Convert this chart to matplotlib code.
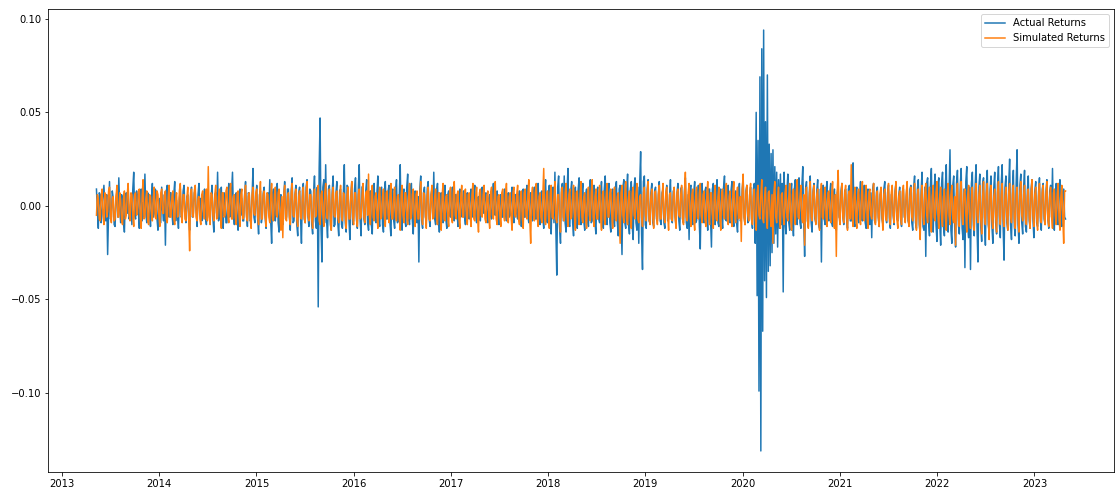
import matplotlib
matplotlib.use("Agg")
import matplotlib.pyplot as plt
import pandas as pd

start_date = "2013-05-10"
sample_step = "84h"

actual_returns = [
    0.009, -0.003, -0.012, 0.007, 0.006, -0.009, -0.004, 0.005, 0.011, 0.002, -0.008, 0.006, -0.026, -0.004, 0.013, -0.007, -0.006, 0.008, 0.004, -0.010,
    -0.011, 0.004, 0.008, -0.006, 0.015, -0.002, -0.009, 0.006, 0.003, -0.008, -0.014, 0.005, 0.007, -0.004, 0.010, -0.007, -0.005, 0.003, -0.010, 0.009,
    0.018, -0.005, -0.007, 0.008, 0.005, -0.003, -0.012, 0.006, 0.009, -0.008, 0.002, -0.006, 0.017, -0.004, -0.009, 0.007, 0.006, -0.005, -0.011, 0.004,
    0.012, -0.006, -0.004, 0.009, 0.008, -0.007, -0.013, 0.003, 0.004, -0.009, 0.010, -0.002, -0.008, 0.006, -0.021, 0.008, 0.011, -0.005, -0.006, 0.007,
    0.007, -0.004, -0.010, 0.006, 0.013, -0.008, 0.003, -0.005, -0.012, 0.004, 0.009, -0.006, -0.005, 0.008, 0.011, -0.003, -0.009, 0.005, 0.006, -0.007,
    -0.013, 0.005, 0.010, -0.006, -0.004, 0.007, 0.008, -0.003, -0.011, 0.006, 0.012, -0.005, 0.004, -0.008, -0.007, 0.004, 0.009, -0.006, -0.010, 0.003,
    0.006, -0.005, -0.008, 0.004, 0.011, -0.007, -0.014, 0.006, 0.007, -0.004, 0.018, -0.008, -0.006, 0.005, 0.010, -0.006, -0.012, 0.007, 0.005, -0.009,
    -0.009, 0.003, 0.012, -0.006, -0.003, 0.008, 0.018, -0.004, -0.010, 0.005, 0.007, -0.007, -0.013, 0.004, 0.009, -0.005, 0.004, -0.008, -0.008, 0.006,
    0.013, -0.004, -0.011, 0.007, 0.006, -0.008, -0.007, 0.005, 0.020, -0.006, -0.009, 0.004, 0.011, -0.007, -0.015, 0.006, 0.008, -0.009, -0.005, 0.007,
    0.010, -0.006, -0.012, 0.005, 0.007, -0.004, 0.014, -0.008, -0.020, 0.006, 0.009, -0.007, -0.008, 0.005, 0.012, -0.009, -0.014, 0.004, 0.006, -0.008,
    -0.010, 0.006, 0.013, -0.007, -0.006, 0.009, 0.009, -0.005, -0.013, 0.008, 0.015, -0.009, -0.008, 0.006, 0.011, -0.010, -0.016, 0.007, 0.010, -0.006,
    -0.020, 0.008, 0.012, -0.007, -0.009, 0.010, 0.014, -0.006, -0.011, 0.009, 0.008, -0.010, -0.015, 0.007, 0.016, -0.008, -0.012, 0.010, -0.054, 0.020,
    0.047, -0.012, -0.030, 0.010, 0.014, -0.009, 0.022, -0.008, -0.017, 0.009, 0.011, -0.010, -0.013, 0.008, 0.016, -0.011, -0.010, 0.007, 0.013, -0.009,
    -0.016, 0.008, 0.009, -0.010, -0.012, 0.007, 0.022, -0.009, -0.014, 0.011, 0.010, -0.008, -0.018, 0.006, 0.013, -0.010, -0.008, 0.009, 0.015, -0.007,
    -0.012, 0.009, 0.022, -0.008, -0.016, 0.010, 0.011, -0.007, -0.010, 0.008, 0.014, -0.009, -0.013, 0.007, 0.008, -0.010, -0.015, 0.009, 0.012, -0.006,
    -0.009, 0.007, 0.016, -0.008, -0.011, 0.009, 0.010, -0.010, -0.014, 0.006, 0.013, -0.007, -0.007, 0.008, 0.011, -0.009, -0.016, 0.007, 0.009, -0.008,
    -0.012, 0.008, 0.014, -0.009, -0.008, 0.006, 0.022, -0.010, -0.013, 0.007, 0.009, -0.008, -0.011, 0.010, 0.017, -0.007, -0.010, 0.009, 0.012, -0.008,
    -0.015, 0.006, 0.008, -0.007, -0.009, 0.005, -0.030, 0.009, 0.016, -0.008, -0.012, 0.007, 0.010, -0.006, -0.008, 0.009, 0.013, -0.007, -0.011, 0.006,
    0.009, -0.006, 0.018, -0.007, -0.010, 0.008, 0.012, -0.005, -0.014, 0.006, 0.007, -0.008, -0.009, 0.005, 0.011, -0.007, -0.012, 0.006, 0.008, -0.005,
    -0.006, 0.004, 0.010, -0.005, -0.008, 0.006, 0.006, -0.004, -0.011, 0.005, 0.009, -0.006, -0.005, 0.003, 0.008, -0.006, -0.010, 0.005, 0.007, -0.004,
    -0.007, 0.005, 0.009, -0.004, -0.006, 0.006, 0.011, -0.005, -0.009, 0.004, 0.005, -0.006, -0.008, 0.005, 0.010, -0.003, -0.004, 0.006, 0.007, -0.005,
    -0.009, 0.004, 0.006, -0.005, -0.007, 0.005, 0.012, -0.004, -0.005, 0.006, 0.008, -0.005, -0.010, 0.004, 0.006, -0.006, -0.006, 0.005, 0.009, -0.004,
    -0.008, 0.005, 0.007, -0.006, -0.005, 0.004, 0.010, -0.005, -0.009, 0.006, 0.006, -0.004, -0.007, 0.005, 0.008, -0.006, -0.011, 0.005, 0.009, -0.006,
    -0.006, 0.005, 0.011, -0.006, -0.009, 0.004, 0.007, -0.005, -0.008, 0.006, 0.010, -0.007, -0.007, 0.006, 0.012, -0.005, -0.010, 0.007, 0.008, -0.006,
    -0.012, 0.007, 0.014, -0.008, -0.009, 0.006, 0.011, -0.007, -0.015, 0.008, 0.010, -0.009, 0.018, -0.012, -0.037, 0.010, 0.016, -0.011, -0.020, 0.009,
    0.012, -0.008, 0.016, -0.009, -0.014, 0.007, 0.020, -0.010, -0.011, 0.008, 0.013, -0.009, -0.016, 0.008, 0.010, -0.007, -0.012, 0.009, 0.015, -0.008,
    -0.010, 0.007, 0.012, -0.008, -0.013, 0.006, 0.009, -0.007, -0.011, 0.008, 0.014, -0.009, -0.008, 0.007, 0.011, -0.009, -0.015, 0.008, 0.010, -0.007,
    -0.009, 0.006, 0.013, -0.008, -0.012, 0.009, 0.016, -0.007, -0.010, 0.008, 0.012, -0.009, -0.014, 0.007, 0.009, -0.008, -0.011, 0.010, 0.013, -0.009,
    -0.016, 0.009, 0.011, -0.008, -0.026, 0.010, 0.014, -0.009, -0.012, 0.008, 0.017, -0.010, -0.015, 0.009, 0.013, -0.011, -0.018, 0.010, 0.015, -0.009,
    -0.013, 0.010, -0.020, 0.012, 0.029, -0.015, -0.034, 0.013, 0.016, -0.010, -0.012, 0.009, 0.014, -0.008, -0.009, 0.007, 0.012, -0.009, -0.011, 0.008,
    0.010, -0.007, -0.008, 0.006, 0.013, -0.008, -0.010, 0.007, 0.009, -0.009, -0.012, 0.006, 0.011, -0.008, -0.007, 0.005, 0.014, -0.007, -0.009, 0.008,
    0.008, -0.006, -0.011, 0.007, 0.012, -0.008, -0.013, 0.009, 0.010, -0.007, -0.009, 0.008, 0.015, -0.009, -0.012, 0.006, -0.018, 0.010, 0.011, -0.008,
    -0.010, 0.007, 0.013, -0.009, -0.008, 0.006, 0.011, -0.010, -0.023, 0.008, 0.012, -0.007, -0.009, 0.008, 0.010, -0.006, -0.013, 0.009, 0.009, -0.007,
    -0.022, 0.009, 0.012, -0.008, -0.010, 0.007, 0.014, -0.009, -0.011, 0.008, 0.009, -0.006, -0.012, 0.010, 0.016, -0.007, -0.008, 0.009, 0.011, -0.008,
    -0.009, 0.008, 0.013, -0.007, -0.011, 0.006, 0.008, -0.009, -0.014, 0.007, 0.012, -0.008, -0.007, 0.009, 0.015, -0.006, -0.010, 0.008, 0.011, -0.009,
    -0.008, 0.006, 0.010, -0.007, -0.012, 0.009, 0.012, -0.020, 0.050, -0.048, 0.035, -0.099, 0.069, -0.131, 0.084, -0.067, 0.094, -0.040, 0.045, -0.049,
    0.070, -0.035, 0.033, -0.032, 0.028, -0.025, 0.030, -0.020, 0.021, -0.015, 0.018, -0.022, 0.014, -0.012, 0.017, -0.010, 0.012, -0.046, 0.018, -0.009,
    -0.015, 0.008, 0.017, -0.009, -0.013, 0.007, 0.012, -0.008, -0.016, 0.009, 0.014, -0.007, -0.010, 0.008, 0.015, -0.009, -0.012, 0.010, 0.021, -0.008,
    -0.027, 0.009, 0.013, -0.008, -0.011, 0.007, 0.016, -0.009, -0.014, 0.008, 0.012, -0.007, -0.009, 0.008, 0.014, -0.010, -0.012, 0.009, -0.030, 0.010,
    0.011, -0.007, -0.010, 0.008, 0.013, -0.006, -0.008, 0.007, 0.012, -0.009, -0.011, 0.006, 0.009, -0.008, -0.013, 0.007, 0.010, -0.006, -0.007, 0.008,
    0.012, -0.006, -0.010, 0.008, 0.009, -0.007, -0.012, 0.009, 0.011, -0.008, -0.008, 0.006, 0.023, -0.009, -0.011, 0.008, 0.010, -0.007, -0.009, 0.006,
    0.013, -0.007, -0.008, 0.006, 0.011, -0.009, -0.012, 0.008, 0.009, -0.006, -0.010, 0.007, -0.017, 0.009, 0.012, -0.008, -0.009, 0.007, 0.010, -0.006,
    -0.011, 0.006, 0.008, -0.007, -0.010, 0.009, 0.013, -0.006, -0.009, 0.007, 0.011, -0.008, -0.012, 0.006, 0.007, -0.005, -0.010, 0.008, 0.012, -0.007,
    -0.008, 0.006, 0.010, -0.007, -0.011, 0.008, 0.009, -0.006, -0.007, 0.005, 0.012, -0.008, -0.010, 0.009, 0.011, -0.009, -0.013, 0.010, 0.016, -0.009,
    -0.012, 0.009, 0.014, -0.010, -0.015, 0.008, 0.018, -0.011, -0.013, 0.010, -0.027, 0.012, 0.015, -0.009, -0.016, 0.011, 0.020, -0.010, -0.014, 0.009,
    0.017, -0.010, -0.019, 0.011, 0.015, -0.009, -0.021, 0.012, 0.018, -0.011, -0.016, 0.010, 0.022, -0.012, -0.014, 0.009, 0.030, -0.013, -0.020, 0.011,
    0.016, -0.011, -0.022, 0.012, 0.019, -0.010, -0.015, 0.011, 0.020, -0.012, -0.018, 0.009, -0.033, 0.013, 0.021, -0.011, -0.017, 0.010, -0.034, 0.012,
    0.018, -0.010, -0.016, 0.011, 0.022, -0.012, -0.030, 0.010, 0.017, -0.011, -0.019, 0.012, 0.015, -0.009, -0.021, 0.011, 0.019, -0.010, -0.014, 0.009,
    0.016, -0.011, -0.020, 0.010, 0.018, -0.009, -0.015, 0.011, 0.021, -0.010, -0.017, 0.012, 0.022, -0.011, -0.029, 0.010, 0.016, -0.009, -0.013, 0.011,
    0.025, -0.010, -0.018, 0.009, 0.019, -0.011, -0.016, 0.012, 0.030, -0.010, -0.020, 0.011, 0.017, -0.009, -0.015, 0.010, 0.019, -0.011, -0.014, 0.008,
    0.016, -0.008, -0.012, 0.009, 0.014, -0.007, -0.017, 0.008, 0.013, -0.009, -0.011, 0.007, 0.015, -0.008, -0.013, 0.009, 0.012, -0.007, -0.010, 0.008,
    0.014, -0.007, -0.012, 0.008, 0.011, -0.006, 0.020, -0.009, -0.013, 0.007, 0.012, -0.008, -0.010, 0.009, 0.014, -0.007, -0.011, 0.008, 0.009, -0.006,
    -0.007,
]

simulated_returns = [
    -0.005, 0.006, 0.004, -0.007, -0.008, 0.005, 0.009, -0.004, -0.010, 0.007, 0.006, -0.006, -0.003, 0.008, 0.010, -0.005, -0.009, 0.004, 0.005, -0.008,
    -0.007, 0.005, 0.011, -0.006, -0.006, 0.007, 0.003, -0.008, -0.010, 0.004, 0.008, -0.007, -0.005, 0.006, 0.012, -0.004, -0.008, 0.007, 0.006, -0.005,
    -0.011, 0.006, 0.007, -0.005, -0.004, 0.008, 0.009, -0.006, -0.012, 0.005, 0.014, -0.007, -0.006, 0.004, 0.008, -0.008, -0.010, 0.006, 0.005, -0.004,
    -0.008, 0.004, 0.010, -0.006, -0.007, 0.008, 0.006, -0.005, -0.011, 0.007, 0.009, -0.004, -0.004, 0.006, 0.008, -0.007, -0.009, 0.005, 0.011, -0.006,
    -0.006, 0.005, 0.008, -0.007, -0.010, 0.004, 0.007, -0.006, -0.005, 0.008, 0.012, -0.005, -0.009, 0.006, 0.006, -0.007, -0.008, 0.004, 0.010, -0.006,
    -0.024, 0.007, 0.009, -0.005, -0.006, 0.008, 0.011, -0.006, -0.008, 0.004, 0.005, -0.007, -0.010, 0.006, 0.008, -0.005, -0.007, 0.006, 0.009, -0.008,
    0.021, -0.006, -0.010, 0.007, 0.006, -0.005, -0.008, 0.006, 0.011, -0.007, -0.006, 0.005, 0.009, -0.004, -0.012, 0.007, 0.007, -0.006, -0.005, 0.008,
    0.010, -0.005, -0.009, 0.006, 0.012, -0.007, -0.007, 0.005, 0.006, -0.006, -0.010, 0.007, 0.008, -0.005, -0.011, 0.006, 0.009, -0.007, -0.006, 0.005,
    0.011, -0.006, -0.008, 0.005, 0.007, -0.007, -0.012, 0.006, 0.010, -0.004, -0.005, 0.007, 0.009, -0.006, -0.010, 0.005, 0.013, -0.007, -0.007, 0.006,
    0.008, -0.005, -0.011, 0.007, 0.006, -0.006, -0.009, 0.005, 0.012, -0.007, -0.008, 0.006, 0.010, -0.005, -0.006, 0.007, 0.009, -0.006, -0.013, 0.005,
    -0.017, 0.006, 0.011, -0.007, -0.008, 0.005, 0.007, -0.006, -0.010, 0.007, 0.012, -0.005, -0.006, 0.006, 0.009, -0.007, -0.011, 0.005, 0.008, -0.006,
    -0.007, 0.005, 0.010, -0.006, -0.009, 0.007, 0.013, -0.005, -0.008, 0.006, 0.006, -0.007, -0.012, 0.005, 0.009, -0.006, -0.005, 0.007, 0.011, -0.008,
    -0.010, 0.006, 0.008, -0.005, -0.011, 0.007, 0.012, -0.006, -0.007, 0.005, 0.009, -0.007, -0.013, 0.006, 0.010, -0.005, -0.006, 0.007, 0.008, -0.006,
    -0.009, 0.005, 0.011, -0.006, -0.008, 0.007, 0.006, -0.005, -0.012, 0.006, 0.010, -0.007, -0.007, 0.005, 0.013, -0.006, -0.010, 0.007, 0.007, -0.005,
    -0.011, 0.006, 0.009, -0.007, -0.006, 0.005, 0.012, -0.006, -0.009, 0.007, 0.008, -0.005, 0.017, -0.006, -0.010, 0.007, 0.011, -0.006, -0.008, 0.005,
    0.007, -0.005, -0.012, 0.006, 0.010, -0.007, -0.006, 0.005, 0.009, -0.006, -0.011, 0.007, 0.008, -0.005, -0.009, 0.006, 0.012, -0.007, -0.007, 0.005,
    0.010, -0.006, -0.008, 0.005, 0.006, -0.007, -0.013, 0.006, 0.011, -0.005, -0.009, 0.007, 0.007, -0.006, -0.010, 0.005, 0.012, -0.007, -0.006, 0.006,
    0.009, -0.005, -0.011, 0.006, 0.008, -0.007, -0.007, 0.005, 0.013, -0.006, -0.010, 0.007, 0.006, -0.005, -0.012, 0.006, 0.010, -0.007, -0.008, 0.005,
    0.011, -0.007, -0.006, 0.005, 0.009, -0.006, -0.010, 0.007, 0.007, -0.005, -0.013, 0.006, 0.012, -0.007, -0.008, 0.005, 0.006, -0.006, -0.011, 0.007,
    0.010, -0.006, -0.009, 0.007, 0.013, -0.005, -0.007, 0.006, 0.008, -0.007, -0.012, 0.005, 0.011, -0.006, -0.006, 0.007, 0.009, -0.005, -0.010, 0.006,
    0.007, -0.005, -0.011, 0.006, 0.012, -0.007, -0.008, 0.005, 0.010, -0.006, -0.014, 0.007, 0.009, -0.005, -0.006, 0.006, 0.011, -0.007, -0.009, 0.005,
    0.008, -0.006, -0.012, 0.007, 0.010, -0.005, -0.007, 0.006, 0.013, -0.007, -0.010, 0.005, 0.006, -0.006, -0.011, 0.007, 0.009, -0.005, -0.008, 0.006,
    0.012, -0.007, -0.009, 0.005, 0.007, -0.006, -0.013, 0.007, 0.010, -0.005, -0.006, 0.006, 0.011, -0.007, -0.010, 0.005, 0.008, -0.006, -0.012, 0.007,
    0.009, -0.005, -0.007, 0.006, 0.014, -0.007, -0.020, 0.006, 0.010, -0.005, -0.008, 0.007, 0.012, -0.006, -0.011, 0.005, 0.007, -0.006, -0.009, 0.006,
    0.020, -0.007, -0.010, 0.006, 0.008, -0.005, -0.012, 0.007, 0.011, -0.006, -0.007, 0.005, 0.013, -0.007, -0.009, 0.006, 0.006, -0.005, -0.014, 0.007,
    0.010, -0.006, -0.008, 0.007, 0.012, -0.005, -0.011, 0.006, 0.009, -0.007, -0.006, 0.005, 0.011, -0.006, -0.013, 0.007, 0.008, -0.005, -0.010, 0.006,
    0.013, -0.006, -0.009, 0.005, 0.007, -0.007, -0.012, 0.006, 0.010, -0.005, -0.008, 0.007, 0.014, -0.006, -0.011, 0.005, 0.009, -0.007, -0.007, 0.006,
    0.011, -0.005, -0.013, 0.006, 0.008, -0.007, -0.010, 0.005, 0.012, -0.006, -0.006, 0.007, 0.009, -0.005, -0.012, 0.006, 0.010, -0.007, -0.008, 0.005,
    0.007, -0.006, -0.020, 0.007, 0.011, -0.005, -0.009, 0.006, 0.013, -0.007, -0.010, 0.005, 0.008, -0.006, -0.012, 0.007, 0.010, -0.005, -0.007, 0.006,
    0.012, -0.007, -0.009, 0.005, 0.006, -0.006, -0.011, 0.007, 0.010, -0.005, -0.008, 0.006, 0.013, -0.007, -0.010, 0.005, 0.009, -0.006, -0.012, 0.007,
    0.008, -0.005, -0.010, 0.006, 0.011, -0.007, -0.007, 0.005, 0.012, -0.006, -0.009, 0.007, 0.010, -0.005, -0.013, 0.006, 0.007, -0.007, -0.008, 0.005,
    0.010, -0.006, -0.012, 0.007, 0.009, -0.005, -0.006, 0.006, 0.011, -0.007, -0.010, 0.005, 0.018, -0.006, -0.008, 0.007, 0.012, -0.005, -0.011, 0.006,
    0.009, -0.007, -0.013, 0.005, 0.010, -0.006, -0.007, 0.007, 0.012, -0.005, -0.009, 0.006, 0.008, -0.007, -0.011, 0.005, 0.013, -0.006, -0.010, 0.007,
    0.007, -0.005, -0.012, 0.006, 0.011, -0.007, -0.008, 0.005, 0.010, -0.006, -0.013, 0.007, 0.009, -0.005, -0.007, 0.006, 0.012, -0.007, -0.010, 0.005,
    0.008, -0.006, -0.011, 0.007, 0.013, -0.005, -0.009, 0.006, 0.010, -0.007, -0.006, 0.005, -0.019, 0.008, 0.017, -0.006, -0.010, 0.007, 0.011, -0.005,
    -0.008, 0.006, 0.012, -0.007, -0.010, 0.005, 0.009, -0.006, -0.013, 0.007, 0.011, -0.005, -0.007, 0.006, 0.014, -0.007, -0.009, 0.005, 0.010, -0.006,
    -0.012, 0.007, 0.008, -0.005, -0.011, 0.006, -0.020, 0.007, 0.013, -0.006, -0.009, 0.005, 0.010, -0.007, -0.012, 0.006, 0.007, -0.005, -0.010, 0.007,
    0.011, -0.006, -0.008, 0.005, 0.012, -0.007, -0.013, 0.006, 0.009, -0.005, -0.010, 0.007, 0.014, -0.006, -0.007, 0.005, 0.011, -0.007, -0.009, 0.006,
    -0.021, 0.006, 0.010, -0.007, -0.012, 0.005, 0.013, -0.006, -0.008, 0.007, 0.011, -0.005, -0.010, 0.006, 0.009, -0.007, -0.013, 0.005, 0.012, -0.006,
    -0.007, 0.005, 0.010, -0.006, -0.011, 0.007, 0.008, -0.005, -0.009, 0.006, 0.013, -0.007, -0.012, 0.006, -0.027, 0.008, 0.019, -0.006, -0.010, 0.005,
    0.012, -0.006, -0.009, 0.007, 0.011, -0.005, -0.013, 0.006, 0.008, -0.007, 0.022, -0.006, -0.011, 0.005, 0.010, -0.007, -0.012, 0.006, 0.009, -0.005,
    -0.010, 0.006, 0.013, -0.007, -0.008, 0.005, 0.011, -0.006, -0.012, 0.007, 0.009, -0.005, -0.007, 0.006, 0.012, -0.007, -0.010, 0.005, 0.008, -0.006,
    -0.011, 0.007, 0.010, -0.005, -0.013, 0.006, 0.009, -0.007, -0.008, 0.005, 0.012, -0.006, -0.010, 0.007, 0.011, -0.005, -0.009, 0.006, 0.013, -0.007,
    -0.012, 0.005, 0.008, -0.006, -0.010, 0.007, 0.011, -0.005, -0.009, 0.006, 0.013, -0.007, -0.011, 0.005, 0.010, -0.006, -0.008, 0.007, 0.012, -0.005,
    -0.013, 0.006, 0.009, -0.007, -0.018, 0.005, 0.011, -0.006, -0.010, 0.007, 0.012, -0.005, -0.009, 0.006, 0.010, -0.007, -0.014, 0.005, 0.011, -0.006,
    -0.008, 0.007, 0.013, -0.005, -0.012, 0.006, 0.010, -0.007, -0.011, 0.005, 0.009, -0.006, -0.013, 0.007, 0.012, -0.005, -0.010, 0.006, 0.011, -0.007,
    -0.009, 0.005, -0.021, 0.006, 0.012, -0.007, -0.011, 0.005, 0.013, -0.006, -0.010, 0.007, 0.009, -0.005, -0.014, 0.006, 0.011, -0.007, -0.012, 0.005,
    0.010, -0.006, -0.013, 0.007, 0.012, -0.005, -0.009, 0.006, 0.011, -0.007, -0.015, 0.005, 0.013, -0.006, -0.010, 0.007, 0.012, -0.005, -0.018, 0.006,
    0.011, -0.007, -0.012, 0.005, 0.009, -0.006, -0.014, 0.007, 0.013, -0.005, -0.010, 0.006, 0.012, -0.007, -0.011, 0.005, 0.010, -0.006, -0.013, 0.007,
    0.012, -0.005, -0.009, 0.006, 0.011, -0.007, -0.012, 0.005, 0.010, -0.006, -0.014, 0.007, 0.013, -0.005, -0.008, 0.006, 0.011, -0.007, -0.010, 0.005,
    0.009, -0.006, -0.012, 0.007, 0.014, -0.005, -0.011, 0.006, 0.010, -0.007, -0.013, 0.005, 0.012, -0.006, -0.009, 0.007, 0.011, -0.005, -0.010, 0.006,
    0.013, -0.007, -0.011, 0.005, 0.010, -0.006, -0.012, 0.007, 0.009, -0.005, -0.010, 0.006, 0.012, -0.007, -0.013, 0.005, 0.011, -0.006, -0.020, 0.008,
    0.008,
]

series_labels = ["Actual Returns", "Simulated Returns"]

n = min(len(actual_returns), len(simulated_returns))
dates = pd.date_range(start_date, periods=n, freq=sample_step)

W, H, DPI = 1115, 491, 72
fig = plt.figure(figsize=(W / DPI, H / DPI), dpi=DPI)
ax = fig.add_axes([48 / W, 19 / H, 1066 / W, 463 / H])

ax.plot(dates, actual_returns[:n], color="#1f77b4", linewidth=1.5, label=series_labels[0])
ax.plot(dates, simulated_returns[:n], color="#ff7f0e", linewidth=1.5, label=series_labels[1])

ax.legend(loc="upper right", fontsize=10)
ax.tick_params(labelsize=10)

fig.savefig("out.png", dpi=DPI)
